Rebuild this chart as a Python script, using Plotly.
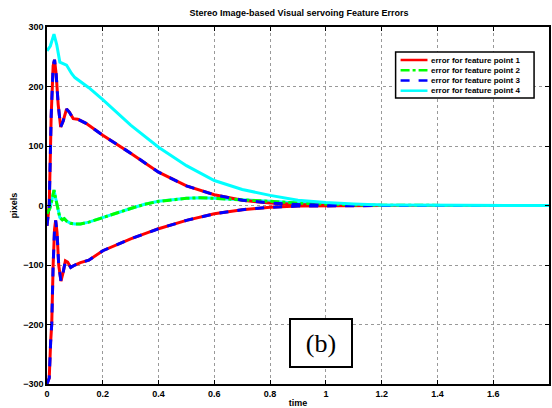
import plotly.graph_objects as go

# --- data ---
t_top = [0, 0.012, 0.025, 0.035, 0.046, 0.07, 0.088, 0.1, 0.15, 0.2, 0.3, 0.4, 0.5, 0.6, 0.7, 0.8, 0.9, 1.0, 1.1, 1.2, 1.4, 1.8]
v_top = [260, 268, 288, 270, 241, 236, 222, 215, 198, 178, 135, 98, 67, 42, 27, 17, 9, 5, 2.5, 1, 0.3, 0]

t_up = [0, 0.008, 0.015, 0.022, 0.027, 0.033, 0.04, 0.049, 0.058, 0.07, 0.08, 0.094, 0.11, 0.14, 0.2, 0.26, 0.3, 0.4, 0.5, 0.6, 0.7, 0.8, 0.9, 1.0, 1.2, 1.8]
v_up = [-34, 0, 150, 235, 245, 220, 170, 132, 142, 162, 157, 146, 145, 138, 118, 100, 88, 56, 33, 18, 9, 4, 1.5, 0.5, 0, 0]

t_low = [0, 0.008, 0.013, 0.017, 0.022, 0.027, 0.031, 0.036, 0.042, 0.05, 0.058, 0.066, 0.074, 0.085, 0.1, 0.12, 0.15, 0.2, 0.3, 0.4, 0.5, 0.6, 0.7, 0.8, 0.9, 1.0, 1.2, 1.8]
v_low = [-300, -290, -230, -199, -100, -40, -25, -45, -100, -127, -112, -93, -95, -104, -100, -96, -92, -76, -56, -39, -25, -14, -7, -3, -1, -0.3, 0, 0]

t_mid = [0, 0.01, 0.018, 0.025, 0.032, 0.04, 0.046, 0.055, 0.062, 0.07, 0.085, 0.1, 0.12, 0.15, 0.2, 0.26, 0.3, 0.35, 0.4, 0.5, 0.55, 0.6, 0.7, 0.8, 0.9, 1.0, 1.1, 1.2, 1.4, 1.8]
v_mid = [-14, -5, 10, 26, 10, -10, -20, -24, -22, -26, -30, -31, -31, -28, -20, -11, -5, 2, 7, 12, 13, 12, 10, 7, 4, 2, 1, 0.3, 0, 0]

names = ["error for feature point 1", "error for feature point 2",
         "error for feature point 3", "error for feature point 4"]
colors = ["#FF0000", "#00FF00", "#0000FF", "#00FFFF"]
dashes = ["solid", "dashdot", "dash", "solid"]
title = "Stereo Image-based Visual servoing Feature Errors"
x_ticks = [0, 0.2, 0.4, 0.6, 0.8, 1, 1.2, 1.4, 1.6, 1.8]
x_ticktext = ["0", "0.2", "0.4", "0.6", "0.8", "1", "1.2", "1.4", "1.6", "1.8"]
y_ticks = [-300, -200, -100, 0, 100, 200, 300]

FONT = "Liberation Sans, Arial, sans-serif"

W, H = 552, 408
ML, MR, MT, MB = 47, 1, 27, 24
PW, PH = W - ML - MR, H - MT - MB


def px(xp):
    return (xp - ML) / PW


def py(yp):
    return (H - MB - yp) / PH


def join(a, b):
    return list(a) + [None] + list(b)


fig = go.Figure()
# feature point 4, middle curve (under the green dash-dot line)
fig.add_trace(go.Scatter(x=t_mid, y=v_mid, mode="lines",
                         name=names[3], line=dict(color=colors[3], width=3)))
fig.add_trace(go.Scatter(x=join(t_up, t_low), y=join(v_up, v_low), mode="lines",
                         name=names[0], line=dict(color=colors[0], width=3)))
fig.add_trace(go.Scatter(x=t_mid, y=v_mid, mode="lines",
                         name=names[1], line=dict(color=colors[1], width=3, dash=dashes[1])))
fig.add_trace(go.Scatter(x=join(t_up, t_low), y=join(v_up, v_low), mode="lines",
                         name=names[2], line=dict(color=colors[2], width=3, dash=dashes[2])))
# feature point 4, top curve (drawn last, on top)
fig.add_trace(go.Scatter(x=t_top, y=v_top, mode="lines",
                         name=names[3], line=dict(color=colors[3], width=3)))

axis_common = dict(
    showline=True, linecolor="black", linewidth=1.5, mirror="ticks",
    ticks="inside", ticklen=4, tickcolor="black",
    showgrid=True, gridcolor="#999999", griddash="dot", gridwidth=1,
    zeroline=False,
    tickfont=dict(family=FONT, size=9, color="black", weight="bold"),
)

fig.update_xaxes(range=[0, 1.8], tickvals=x_ticks, ticktext=x_ticktext,
                 title=dict(text="time", standoff=2,
                            font=dict(family=FONT, size=9, color="black", weight="bold")),
                 **axis_common)
fig.update_yaxes(range=[-300, 300], tickvals=y_ticks,
                 title=dict(text="pixels", standoff=4,
                            font=dict(family=FONT, size=9, color="black", weight="bold")),
                 **axis_common)

# (b) label box
fig.add_annotation(x=px(322), y=py(343), xref="paper", yref="paper", text="(b)", showarrow=False,
                   xanchor="center", yanchor="middle",
                   font=dict(family="Liberation Serif, Times New Roman, serif", size=26, color="black"),
                   bordercolor="black", borderwidth=2, borderpad=3, bgcolor="white",
                   width=54, height=40)

# manual legend (compact, like the original)
shapes = [dict(type="rect", xref="paper", yref="paper",
               x0=px(397), x1=px(536), y0=py(98), y1=py(52),
               line=dict(color="black", width=1.5), fillcolor="white", layer="above")]
row_y = [60, 70.3, 80.5, 90.7]
for i in range(4):
    shapes.append(dict(type="line", xref="paper", yref="paper",
                       x0=px(402), x1=px(429), y0=py(row_y[i]), y1=py(row_y[i]),
                       line=dict(color=colors[i], width=2.5, dash=dashes[i]), layer="above"))
    fig.add_annotation(x=px(431), y=py(row_y[i]), xref="paper", yref="paper",
                       text=names[i], showarrow=False, xanchor="left", yanchor="middle",
                       font=dict(family=FONT, size=8, color="black", weight="bold"))

fig.update_layout(
    width=W, height=H,
    margin=dict(l=ML, r=MR, t=MT, b=MB),
    paper_bgcolor="white", plot_bgcolor="white",
    title=dict(text=title, x=px(300), xref="paper", xanchor="center", y=(H - 13) / H, yanchor="middle",
               font=dict(family=FONT, size=9, color="black", weight="bold")),
    shapes=shapes,
    showlegend=False,
)

fig.write_html("out.html")
